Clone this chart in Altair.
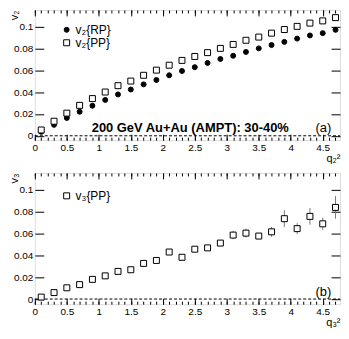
import altair as alt
import pandas as pd

# ---------------- data ----------------
q = [0.1, 0.3, 0.5, 0.7, 0.9, 1.1, 1.3, 1.5, 1.7, 1.9, 2.1, 2.3,
     2.5, 2.7, 2.9, 3.1, 3.3, 3.5, 3.7, 3.9, 4.1, 4.3, 4.5, 4.7]
v2_rp = [0.0036, 0.0100, 0.0163, 0.0220, 0.0275, 0.0328, 0.0378, 0.0423,
         0.0470, 0.0510, 0.0553, 0.0592, 0.0627, 0.0666, 0.0702, 0.0731,
         0.0766, 0.0799, 0.0829, 0.0858, 0.0888, 0.0917, 0.0938, 0.0968]
v2_pp = [0.0053, 0.0133, 0.0207, 0.0278, 0.0340, 0.0400, 0.0458, 0.0500,
         0.0553, 0.0600, 0.0645, 0.0689, 0.0725, 0.0760, 0.0799, 0.0835,
         0.0873, 0.0902, 0.0938, 0.0971, 0.1000, 0.1030, 0.1050, 0.1080]
v3_pp = [0.0018, 0.0059, 0.0103, 0.0132, 0.0180, 0.0212, 0.0253, 0.0268,
         0.0326, 0.0353, 0.0430, 0.0382, 0.0456, 0.0468, 0.0512, 0.0585,
         0.0603, 0.0576, 0.0615, 0.0735, 0.0644, 0.0756, 0.0688, 0.0838]
v3_err = [0.0005, 0.0006, 0.0007, 0.0008, 0.0009, 0.0010, 0.0011, 0.0012,
          0.0013, 0.0014, 0.0016, 0.0018, 0.0020, 0.0022, 0.0028, 0.0038,
          0.0040, 0.0028, 0.0045, 0.0078, 0.0050, 0.0076, 0.0056, 0.0103]

series_top = ["v₂{RP}", "v₂{PP}"]
series_bot = ["v₃{PP}"]
x_major = [0, 0.5, 1, 1.5, 2, 2.5, 3, 3.5, 4, 4.5]
x_minor = [round(0.1 * i, 1) for i in range(48)]
y_major = [0, 0.02, 0.04, 0.06, 0.08, 0.1]

note_top = "200 GeV Au+Au (AMPT): 30-40%"
tag_top = "(a)"
tag_bot = "(b)"

FONT = "Liberation Sans"
XDOM = [0, 4.77]
W = 307

top_df = pd.DataFrame({
    "q": q * 2,
    "v": v2_rp + v2_pp,
    "s": [series_top[0]] * len(q) + [series_top[1]] * len(q),
})
bot_df = pd.DataFrame({"q": q, "v": v3_pp, "s": [series_bot[0]] * len(q),
                       "lo": [a - b for a, b in zip(v3_pp, v3_err)],
                       "hi": [a + b for a, b in zip(v3_pp, v3_err)]})


def xax(orient, values, size, labels=False, title=None):
    kw = dict(orient=orient, values=values, tickSize=size, offset=-size,
              domain=False, grid=False, labels=labels, tickColor="black",
              tickWidth=1, minExtent=0)
    if labels:
        kw.update(labelExpr="format(datum.value, '~g')", labelFlush=False,
                  labelOverlap=False, labelFont=FONT, labelFontSize=10,
                  labelColor="black", labelPadding=2)
    if title:
        kw.update(title=title, titleX=W, titleY=size + 12,
                  titleAlign="right", titleBaseline="top", titleAngle=0,
                  titleFont=FONT, titleFontSize=11, titleFontWeight="normal",
                  titleColor="black")
    else:
        kw.update(title=None)
    return alt.Axis(**kw)


def yax(orient, size, labels=False, title=None):
    kw = dict(orient=orient, values=y_major, tickSize=size, offset=-size,
              domain=False, grid=False, labels=labels, tickColor="black",
              tickWidth=1, minExtent=0)
    if labels:
        kw.update(labelExpr="format(datum.value, '~g')", labelFlush=False,
                  labelOverlap=False, labelFont=FONT, labelFontSize=10,
                  labelColor="black", labelPadding=2)
    if title:
        kw.update(title=title, titleX=-size - 20, titleY=0,
                  titleAngle=270, titleAlign="right", titleBaseline="middle",
                  titleFont=FONT, titleFontSize=11, titleFontWeight="normal",
                  titleColor="black")
    else:
        kw.update(title=None)
    return alt.Axis(**kw)


def panel(df, ydom, series, fills, shapes, sizes, ytitle, xtitle, tag,
          height, legend_y, note=None, errors=False):
    xs = alt.Scale(domain=XDOM, nice=False, zero=False)
    ys = alt.Scale(domain=ydom, nice=False, zero=False)
    leg = alt.Legend(orient="none", legendX=26, legendY=legend_y, title=None,
                     labelFont=FONT, labelFontSize=12, labelColor="black",
                     symbolStrokeWidth=1, symbolSize=36,
                     rowPadding=1, labelOffset=3)
    enc = dict(
        x=alt.X("q:Q", scale=xs, axis=xax("bottom", x_major, 6, True, xtitle)),
        y=alt.Y("v:Q", scale=ys, axis=yax("left", 9, True, ytitle)),
        fill=alt.Fill("s:N", scale=alt.Scale(domain=series, range=fills),
                      legend=leg),
        stroke=alt.Stroke("s:N", scale=alt.Scale(domain=series,
                                                 range=["black"] * len(series)),
                          legend=leg),
        shape=alt.Shape("s:N", scale=alt.Scale(domain=series, range=shapes),
                        legend=leg),
    )
    if len(series) > 1:
        enc["size"] = alt.Size("s:N", scale=alt.Scale(domain=series,
                                                      range=sizes),
                               legend=leg)
    pts = alt.Chart(df).mark_point(strokeWidth=1, opacity=1,
                                   size=sizes[-1]).encode(**enc)
    zero = alt.Chart(pd.DataFrame({"a": [XDOM[0]], "b": [XDOM[1]], "v": [0.0]})
                     ).mark_rule(color="black", strokeDash=[3, 2],
                                 strokeWidth=1).encode(
        x=alt.X("a:Q", scale=xs, axis=xax("bottom", x_minor, 3)),
        x2=alt.X2("b:Q"),
        y=alt.Y("v:Q", scale=ys, axis=yax("right", 9)),
    )
    tagc = alt.Chart(pd.DataFrame({"q": [4.51], "v": [ydom[0] + 0.0075],
                                   "t": [tag]})).mark_text(
        font=FONT, fontSize=13, color="black", baseline="alphabetic",
        align="center").encode(
        x=alt.X("q:Q", scale=xs, axis=xax("top", x_major, 6)),
        y=alt.Y("v:Q", scale=ys, axis=None),
        text="t:N",
    )
    layers = [zero]
    if errors:
        err = alt.Chart(df).mark_rule(color="#777", strokeWidth=1).encode(
            x=alt.X("q:Q", scale=xs, axis=xax("top", x_minor, 3)),
            y=alt.Y("lo:Q", scale=ys, axis=None),
            y2="hi:Q",
        )
        layers.append(err)
    if note is not None:
        notec = alt.Chart(pd.DataFrame({"q": [3.97], "v": [ydom[0] + 0.0075],
                                        "t": [note]})).mark_text(
            font=FONT, fontSize=13, fontWeight="bold", color="black",
            baseline="alphabetic", align="right").encode(
            x=alt.X("q:Q", scale=xs, axis=xax("top", x_minor, 3)),
            y=alt.Y("v:Q", scale=ys, axis=None),
            text="t:N",
        )
        layers.append(notec)
    layers += [pts, tagc]
    return alt.layer(*layers).resolve_axis(x="independent", y="independent") \
        .properties(width=W, height=height)


top = panel(top_df, [-0.004, 0.115], series_top, ["black", "white"],
            ["circle", "square"], [25, 36], "v₂", "q₂²", tag_top, 131, 14,
            note=note_top)
bot = panel(bot_df, [-0.0047, 0.1153], series_bot, ["white"], ["square"],
            [36], "v₃", "q₃²", tag_bot, 132, 17, errors=True)

chart = alt.vconcat(top, bot, spacing=33, bounds="flush").resolve_scale(
    fill="independent", shape="independent", stroke="independent",
    size="independent"
).resolve_legend(fill="independent", shape="independent",
                 stroke="independent", size="independent").properties(
    padding=0).configure_view(
    stroke="black", strokeWidth=1).configure(background="white")

chart.save("out.html", embed_options={"renderer": "svg", "actions": False})
